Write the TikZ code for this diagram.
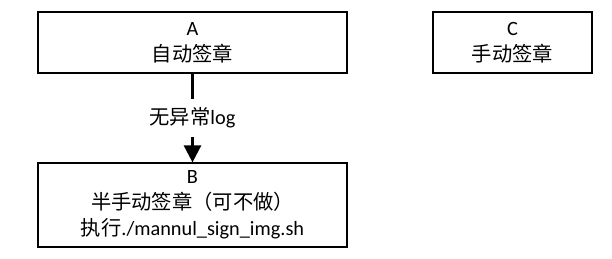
\documentclass[tikz,border=0pt]{standalone}
\usepackage{fontspec}
\setmainfont{Carlito}
\newfontfamily\cjk{Noto Sans CJK SC}
\usetikzlibrary{arrows.meta, positioning}
\newcommand{\zh}[1]{{\cjk #1}}

\begin{document}
\begin{tikzpicture}[
    x=1pt, y=1pt,
    >={Triangle[width=17pt,length=17pt]}, % big filled arrow head
    box/.style={draw=black, line width=1.2pt, align=center, inner sep=0pt,
        font=\fontsize{20.3}{26}\selectfont}, % step boxes
    flow/.style={->, line width=2.6pt}
]
\useasboundingbox (0,0) rectangle (612,259);

% Steps
\node[box, minimum width=309pt, minimum height=61pt] (autoSign) at (192.5,216.5) {A\\\zh{自动签章}};
\node[box, minimum width=159pt, minimum height=61pt] (manualSign) at (512.5,216.5) {C\\\zh{手动签章}};
\node[box, minimum width=309pt, minimum height=84pt] (semiSign) at (192.5,54) {B\\\zh{半手动签章（可不做）}\\\zh{执行}./mannul\_sign\_img.sh};

% Flow A -> B
\draw[flow] (autoSign.south) -- node[fill=white, inner xsep=4pt, inner ysep=9pt,
    font=\fontsize{20.3}{24}\selectfont] (noLog) {\zh{无异常}log} (semiSign.north);

\end{tikzpicture}
\end{document}
